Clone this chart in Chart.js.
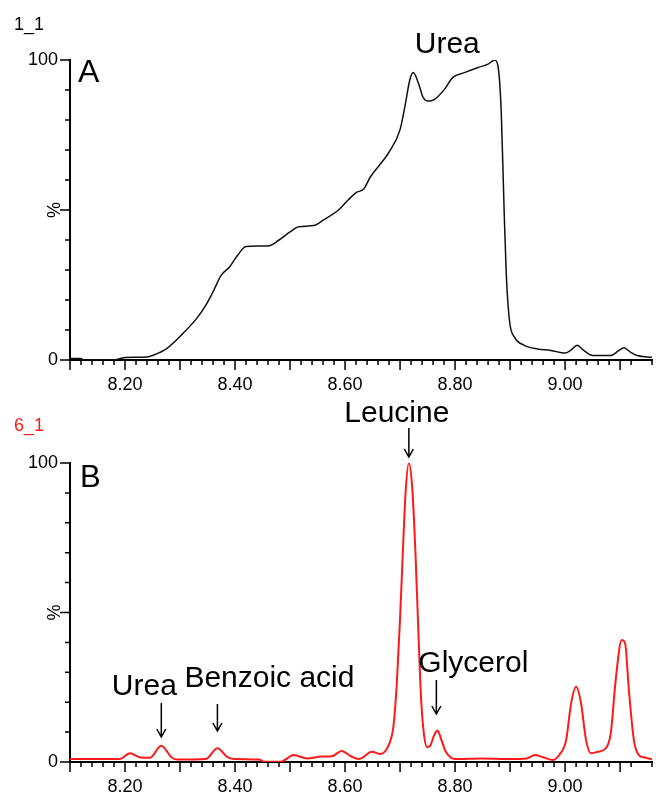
<!DOCTYPE html>
<html lang="en">
<head>
<meta charset="UTF-8">
<title>Chromatograms A and B</title>
<script src="https://cdn.jsdelivr.net/npm/chart.js"></script>
<style>
    body { margin: 0; background: #fff; }
    .wrap { position: relative; width: 656px; height: 792px; }
    canvas { position: absolute; left: 0; }
    #chartA { top: 0; }
    #chartB { top: 400px; }
</style>
</head>
<body>
<div class="wrap">
    <canvas id="chartA" width="656" height="400"></canvas>
    <canvas id="chartB" width="656" height="392"></canvas>
</div>
<script>
// retention time (min) and relative intensity (%)
const timesA = [8.100, 8.120, 8.125, 8.180, 8.190, 8.200, 8.240, 8.250, 8.275, 8.305,
    8.330, 8.347, 8.360, 8.375, 8.390, 8.405, 8.420, 8.440, 8.460, 8.480,
    8.500, 8.516, 8.543, 8.561, 8.588, 8.606, 8.620, 8.634, 8.646, 8.661,
    8.679, 8.700, 8.709, 8.718, 8.724, 8.733, 8.742, 8.751, 8.763, 8.781,
    8.796, 8.817, 8.842, 8.860, 8.872, 8.878, 8.884, 8.889, 8.893, 8.899,
    8.908, 8.926, 8.950, 8.974, 9.000, 9.010, 9.022, 9.034, 9.050, 9.083,
    9.098, 9.107, 9.119, 9.131, 9.158];
const percentA = [0.5, 0.5, 0, 0, 0.4, 0.8, 1.0, 1.5, 3.7, 8.8,
    13.8, 18.3, 22.7, 28.3, 31.0, 35.0, 37.8, 38.0, 38.0, 40.0,
    42.7, 44.4, 44.8, 46.7, 50.0, 53.4, 55.8, 57.0, 61.0, 64.6,
    69.0, 76.8, 84.7, 93.6, 95.8, 92.5, 87.5, 86.3, 86.9, 90.3,
    94.2, 95.8, 97.5, 98.6, 100, 98.0, 82.4, 51.0, 29.0, 13.0,
    7.6, 4.9, 3.7, 3.2, 2.3, 3.2, 4.9, 3.2, 1.5, 1.5,
    3.2, 4.1, 2.6, 1.5, 0.9];

const timesB = [8.100, 8.190, 8.209, 8.228, 8.245, 8.266, 8.285, 8.296, 8.347, 8.368,
    8.385, 8.395, 8.444, 8.453, 8.483, 8.507, 8.531, 8.558, 8.576, 8.594,
    8.610, 8.625, 8.649, 8.664, 8.680, 8.688, 8.694, 8.700, 8.705, 8.710,
    8.716, 8.722, 8.728, 8.733, 8.738, 8.743, 8.749, 8.755, 8.762, 8.768,
    8.775, 8.783, 8.792, 8.800, 8.850, 8.900, 8.930, 8.945, 8.960, 8.978,
    8.990, 9.002, 9.011, 9.020, 9.029, 9.038, 9.047, 9.059, 9.074, 9.083,
    9.092, 9.103, 9.109, 9.116, 9.125, 9.134, 9.145, 9.158];
const percentB = [1.0, 1.0, 2.9, 1.5, 1.4, 5.4, 1.5, 0.8, 1.0, 4.6,
    1.8, 1.1, 0.8, 0.1, 0.1, 2.3, 1.2, 1.8, 1.9, 3.7,
    2.0, 1.0, 3.4, 2.7, 6.0, 12.0, 26.0, 48.0, 70.0, 90.0,
    100, 92.0, 70.0, 45.0, 22.0, 10.0, 5.0, 5.5, 9.0, 10.5,
    7.5, 3.5, 1.5, 1.0, 1.2, 1.0, 1.2, 2.3, 1.6, 0.7,
    2.5, 7.4, 19.7, 25.2, 19.7, 7.4, 2.9, 3.4, 4.6, 9.6,
    27.4, 40.8, 39.8, 24.0, 7.4, 2.3, 1.5, 0.9];

const xTickLabels = ['8.20', '8.40', '8.60', '8.80', '9.00'];
const yTickLabels = ['0', '100'];
const yMidLabel = '%';

const panelIds = ['1_1', '6_1'];
const panelLetters = ['A', 'B'];
const peakNamesA = ['Urea'];
const peakTimesA = [8.724];
const peakNamesB = ['Urea', 'Benzoic acid', 'Leucine', 'Glycerol'];
const peakTimesB = [8.266, 8.368, 8.716, 8.766];

const FONT = '"Liberation Sans", Arial, sans-serif';
const RED = 'rgb(255, 25, 25)';
Chart.defaults.font.family = FONT;

// short ticks every 0.02 / 10 %, long ones every 0.1 / 50 %
const tickMarks = {
    id: 'tickMarks',
    afterDraw(chart) {
        const ctx = chart.ctx, xs = chart.scales.x, ys = chart.scales.y;
        ctx.save();
        ctx.strokeStyle = '#000';
        ctx.lineWidth = 1.5;
        ctx.beginPath();
        xs.ticks.forEach(t => {
            const px = xs.getPixelForValue(t.value);
            const len = Math.round(t.value * 100) % 10 === 0 ? 10 : 5;
            ctx.moveTo(px, xs.top);
            ctx.lineTo(px, xs.top + len);
        });
        ys.ticks.forEach(t => {
            const py = ys.getPixelForValue(t.value);
            const len = t.value % 50 === 0 ? 10 : 5;
            ctx.moveTo(ys.right - len, py);
            ctx.lineTo(ys.right, py);
        });
        ctx.stroke();
        ctx.fillStyle = '#000';
        ctx.font = '18px ' + FONT;
        ctx.translate(ys.right - 15, ys.getPixelForValue(50));
        ctx.rotate(-Math.PI / 2);
        ctx.textAlign = 'center';
        ctx.textBaseline = 'middle';
        ctx.fillText(yMidLabel, 0, 0);
        ctx.restore();
    }
};

function drawArrow(ctx, x, y1, y2) {
    ctx.beginPath();
    ctx.moveTo(x, y1);
    ctx.lineTo(x, y2);
    ctx.moveTo(x - 4.5, y2 - 8);
    ctx.lineTo(x, y2);
    ctx.lineTo(x + 4.5, y2 - 8);
    ctx.stroke();
}

// id, letter, peak names; layout rows are [text dx, baseline, arrow top, arrow bottom]
function notesPlugin(idText, idColor, letter, letterPos, names, times, layout) {
    return {
        id: 'notes',
        afterDraw(chart) {
            const ctx = chart.ctx, xs = chart.scales.x;
            ctx.save();
            ctx.textBaseline = 'alphabetic';
            ctx.font = '18px ' + FONT;
            ctx.fillStyle = idColor;
            ctx.textAlign = 'left';
            ctx.fillText(idText, 14, letterPos[3]);
            ctx.fillStyle = '#000';
            ctx.font = letterPos[2] + 'px ' + FONT;
            ctx.fillText(letter, letterPos[0], letterPos[1]);
            ctx.font = '30px ' + FONT;
            ctx.textAlign = 'center';
            ctx.strokeStyle = '#000';
            ctx.lineWidth = 1.5;
            names.forEach((name, i) => {
                const px = xs.getPixelForValue(times[i]);
                const l = layout[i];
                ctx.fillText(name, px + l[0], l[1]);
                if (l[2] != null) drawArrow(ctx, px, l[2], l[3]);
            });
            ctx.restore();
        }
    };
}

function makeChart(id, times, values, color, width, areaTop, axisHeight, notes) {
    return new Chart(document.getElementById(id), {
        type: 'line',
        data: {
            datasets: [{
                data: times.map((t, i) => ({ x: t, y: values[i] })),
                borderColor: color,
                borderWidth: width,
                pointRadius: 0,
                fill: false,
                cubicInterpolationMode: 'monotone'
            }]
        },
        options: {
            responsive: false,
            animation: false,
            events: [],
            layout: { padding: { top: areaTop, left: 0, right: 0, bottom: 0 } },
            plugins: { legend: { display: false }, tooltip: { enabled: false } },
            scales: {
                x: {
                    type: 'linear', min: 8.10, max: 9.158,
                    afterFit: s => { s.height = axisHeight; },
                    grid: { display: false, tickLength: 10 },
                    border: { display: true, color: '#000', width: 2 },
                    ticks: {
                        stepSize: 0.02, maxTicksLimit: 200, autoSkip: false,
                        maxRotation: 0, minRotation: 0, padding: 4,
                        color: '#000', font: { size: 18 },
                        callback: v => xTickLabels.includes(v.toFixed(2)) ? v.toFixed(2) : ''
                    }
                },
                y: {
                    min: 0, max: 100,
                    afterFit: s => { s.width = 70; },
                    grid: { display: false, tickLength: 10 },
                    border: { display: true, color: '#000', width: 2 },
                    ticks: {
                        stepSize: 10, padding: 2, color: '#000', font: { size: 18 },
                        callback: v => yTickLabels.includes(String(v)) ? String(v) : ''
                    }
                }
            }
        },
        plugins: [tickMarks, notes]
    });
}

makeChart('chartA', timesA, percentA, '#111', 1.5, 60, 40,
    notesPlugin(panelIds[0], '#000', panelLetters[0], [78, 82, 32, 30],
        peakNamesA, peakTimesA, [[34, 53, null, null]]));

makeChart('chartB', timesB, percentB, RED, 2, 63, 30,
    notesPlugin(panelIds[1], RED, panelLetters[1], [80, 87, 31, 31],
        peakNamesB, peakTimesB,
        [[-17, 295, 303, 337], [52, 287, 304, 331], [-12, 22, 28, 57], [37, 272, 280, 314]]));
</script>
</body>
</html>
